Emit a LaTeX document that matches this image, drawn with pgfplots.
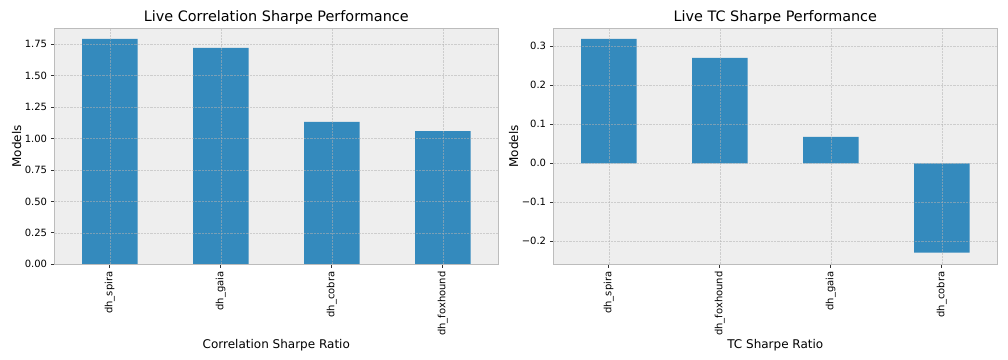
\documentclass[border=0pt]{standalone}
\usepackage{pgfplots}
\pgfplotsset{compat=1.18}
\usepackage{fontspec}
\setmainfont{DejaVu Sans}
\definecolor{barc}{HTML}{348ABD}
\definecolor{bgc}{HTML}{EEEEEE}
\definecolor{edgec}{HTML}{BCBCBC}
\definecolor{gridc}{HTML}{B2B2B2}
\pgfplotsset{
  bmh/.style={
    scale only axis, width=444bp, height=236bp, anchor=south west,
    axis background/.style={fill=bgc},
    axis line style={draw=edgec, line width=0.8bp},
    xmajorgrids, ymajorgrids,
    major grid style={draw=gridc, draw opacity=0.55, line width=0.6bp, dash pattern=on 2.2bp off 1bp},
    tick align=outside, major tick length=3.5bp,
    tick style={draw=black!80, line width=0.8bp},
    xtick pos=bottom, ytick pos=left,
    axis on top,
    xmin=-0.5, xmax=3.5, xtick={0,1,2,3},
    xticklabel style={rotate=90, anchor=east, inner sep=0pt, xshift=-3.5bp, font=\fontsize{10bp}{12bp}\selectfont},
    yticklabel style={anchor=east, inner sep=0pt, xshift=-3.5bp, font=\fontsize{10bp}{12bp}\selectfont},
    label style={font=\fontsize{12bp}{14bp}\selectfont},
    title style={font=\fontsize{14.4bp}{17bp}\selectfont, yshift=-6bp},
    ylabel={Models},
    /pgf/number format/assume math mode=true,
  }
}
\pgfplotstableread{
x v
0 1.792
1 1.721
2 1.132
3 1.060
}\corr
\pgfplotstableread{
x v
0 0.319
1 0.270
2 0.0675
3 -0.229
}\tc
\begin{document}
\begin{tikzpicture}
\useasboundingbox (0,0) rectangle (1008bp,360bp);
\begin{axis}[bmh, at={(54.3bp,95.7bp)},
  title={Live Correlation Sharpe Performance},
  xlabel={Correlation Sharpe Ratio},
  ymin=0, ymax=1.877,
  ytick={0,0.25,0.5,0.75,1,1.25,1.5,1.75},
  yticklabels={0.00,0.25,0.50,0.75,1.00,1.25,1.50,1.75},
  xticklabels={dh\_spira,dh\_gaia,dh\_cobra,dh\_foxhound}]
\addplot[ybar, bar width=0.5, fill=barc, draw=none] table[x=x,y=v] {\corr};
\end{axis}
\begin{axis}[bmh, at={(553.3bp,95.7bp)},
  title={Live TC Sharpe Performance},
  xlabel={TC Sharpe Ratio},
  ymin=-0.259, ymax=0.346,
  ytick={-0.2,-0.1,0,0.1,0.2,0.3},
  yticklabels={−0.2,−0.1,0.0,0.1,0.2,0.3},
  xticklabels={dh\_spira,dh\_foxhound,dh\_gaia,dh\_cobra}]
\addplot[ybar, bar width=0.5, fill=barc, draw=none] table[x=x,y=v] {\tc};
\end{axis}
\end{tikzpicture}
\end{document}
